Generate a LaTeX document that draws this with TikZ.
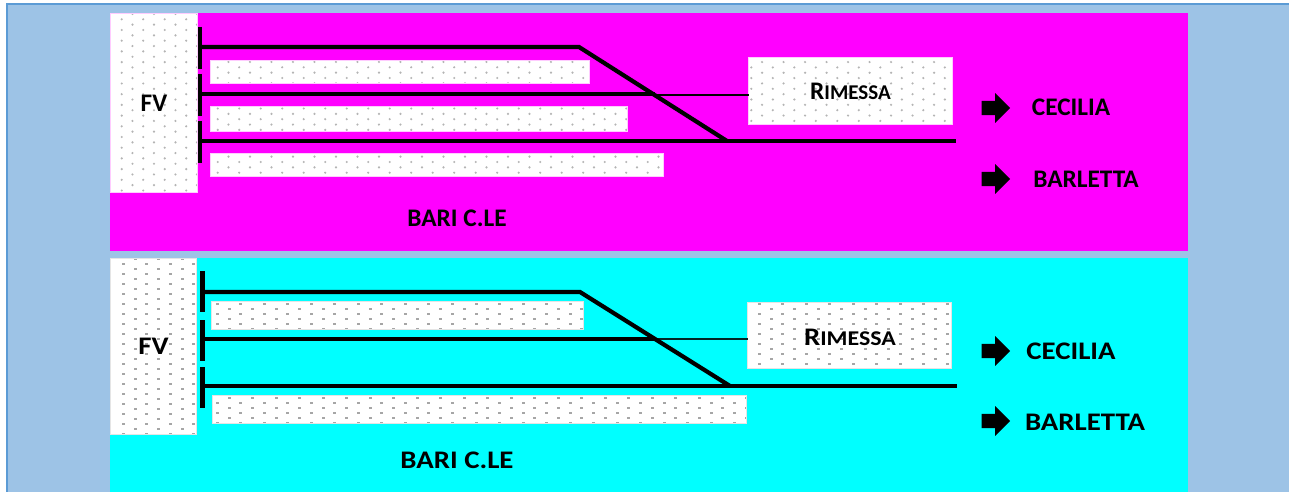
\documentclass[tikz,border=0pt]{standalone}
\usepackage{graphicx}
\usepackage{fontspec}
\setmainfont{Carlito}
\usetikzlibrary{shapes.arrows}
\definecolor{sky}{HTML}{9DC3E6}
\definecolor{skyline}{HTML}{5B9BD5}
\definecolor{pink}{HTML}{FF00FF}
\definecolor{aqua}{HTML}{00FFFF}
\definecolor{dotgrey}{HTML}{B4B4B4}
\newcommand{\stretchtext}[1]{\scalebox{1.14}[1]{#1}}
\newcommand{\labelfont}{\fontsize{25.3}{25.3}\selectfont\bfseries}
\newcommand{\rimtext}{{\bfseries\fontsize{25.3}{25.3}\selectfont R\fontsize{21}{21}\selectfont IMESSA}}
\tikzset{
  band/.style={fill=#1,draw=none,anchor=north west,inner sep=0pt,outer sep=0pt},
  label/.style={font=\labelfont,inner sep=0pt,text=black},
  mdots/.style n args={6}{draw=pink!20!white,line width=1pt,fill=white,inner sep=0pt,outer sep=0pt,anchor=north west,
    minimum width=#5pt-1pt,minimum height=#6pt-1pt,xshift=.5pt,yshift=-.5pt,
    path picture={
      \foreach \i in {0,...,#1}{\foreach \j in {0,...,#2}{
        \fill[dotgrey] ({-#5/2+#3+\i*10.75},{-#6/2+#4+\j*10.7-mod(\i,2)*5.35}) circle[radius=1.2];
      }}
    }},
  cdots/.style n args={6}{draw=black!10,line width=1pt,fill=white,inner sep=0pt,outer sep=0pt,anchor=north west,
    minimum width=#5pt-1pt,minimum height=#6pt-1pt,xshift=.5pt,yshift=-.5pt,
    path picture={
      \foreach \i in {0,...,#1}{\foreach \j in {0,...,#2}{
        \fill[black!35] ({-#5/2+#3+\i*11.76-1.5},{-#6/2+#4+\j*10-mod(\i,2)*5-0.8}) rectangle ++(3,1.6);
      }}
    }},
  heavy/.style={line width=4.2pt},
  bar/.style={line width=#1,line cap=butt},
  thin track/.style={line width=1.6pt},
  go/.style={single arrow,fill=black,draw=none,inner sep=0pt,outer sep=0pt,text height=14pt,text depth=0pt,text width=0pt,minimum width=29.5pt,minimum height=28.5pt,single arrow head extend=7.75pt,single arrow tip angle=90,anchor=tip},
}
\begin{document}
\begin{tikzpicture}[x=1pt,y=-1pt]
\useasboundingbox (0,0) rectangle (1289,492);
\fill[white] (0,0) rectangle (1289,492);
\fill[sky] (6,3) rectangle (1289,492);
\fill[skyline] (6,3) rectangle (1289,5);
\fill[skyline] (6,3) rectangle (8,492);
% bands
\node[band=pink,minimum width=1078pt,minimum height=238pt] (bandA) at (110,13) {};
\node[band=aqua,minimum width=1078pt,minimum height=234pt] (bandB) at (110,258) {};
% upper boxes
\node[mdots={8}{17}{11.7}{6.3}{88}{180}] (fvA) at (110,13) {};
\node[label] (fvAt) at (fvA.center) {FV};
\node[mdots={36}{2}{7.7}{6.8}{380}{23.5}] (pa1) at (210,60.5) {};
\node[mdots={39}{3}{7.7}{2.5}{418}{26}] (pa2) at (210,106) {};
\node[mdots={43}{2}{7.7}{8.7}{454}{23.5}] (pa3) at (210,153.3) {};
\node[mdots={19}{7}{3.3}{0}{205}{68.5}] (rimA) at (748,56.7) {};
\node[inner sep=0pt] (rimAt) at (rimA.center) {\rimtext};
% upper tracks
\coordinate (a1s) at (202,47); \coordinate (a1k) at (579,47); \coordinate (a1e) at (727,141);
\coordinate (a2s) at (202,94); \coordinate (a2k) at (655,94); \coordinate (a2t) at (655,95);
\coordinate (a3s) at (202,141); \coordinate (a3e) at (956,141);
\coordinate (ab1t) at (200,27); \coordinate (ab1b) at (200,69);
\coordinate (ab2t) at (200,74); \coordinate (ab2b) at (200,116);
\coordinate (ab3t) at (200,121); \coordinate (ab3b) at (200,163);
\draw[thin track] (a2t) -- (rimA.west |- a2t);
\draw[heavy] (a2s) -- (a2k);
\draw[heavy,line join=miter] (a1s) -- (a1k) -- (a1e);
\draw[heavy] (a3s) -- (a3e);
\draw[bar=4pt] (ab1t) -- (ab1b);
\draw[bar=4pt] (ab2t) -- (ab2b);
\draw[bar=4pt] (ab3t) -- (ab3b);
\node[go] (arA1) at (1010,108) {};
\node[go] (arA2) at (1010,179) {};
\node[label] (ceA) at (1071,107) {CECILIA};
\node[label] (baA) at (1086,179) {BARLETTA};
\node[label] (stA) at (457,218) {BARI C.LE};
% lower boxes
\node[cdots={8}{18}{13.3}{6}{87}{177}] (fvB) at (110,258) {};
\node[label] (fvBt) at (fvB.center) {\stretchtext{FV}};
\node[cdots={32}{3}{6.3}{3}{373}{29}] (pb1) at (211,301) {};
\node[cdots={46}{3}{5.3}{7.4}{535}{29}] (pb2) at (212,395.3) {};
\node[cdots={18}{7}{12}{1.7}{205}{67}] (rimB) at (747.3,302.3) {};
\node[inner sep=0pt] (rimBt) at (850,337) {\stretchtext{\rimtext}};
% lower tracks
\coordinate (b1s) at (205,292); \coordinate (b1k) at (580,292); \coordinate (b1e) at (730,386);
\coordinate (b2s) at (205,339); \coordinate (b2k) at (656,339);
\coordinate (b3s) at (205,386); \coordinate (b3e) at (957,386);
\coordinate (bb1t) at (202.5,271); \coordinate (bb1b) at (202.5,312);
\coordinate (bb2t) at (202.5,320); \coordinate (bb2b) at (202.5,361);
\coordinate (bb3t) at (202.5,367); \coordinate (bb3b) at (202.5,408);
\draw[thin track,black!85!aqua] (b2k) -- (rimB.west |- b2k);
\draw[heavy] (b2s) -- (b2k);
\draw[heavy,line join=miter] (b1s) -- (b1k) -- (b1e);
\draw[heavy] (b3s) -- (b3e);
\draw[bar=5pt] (bb1t) -- (bb1b);
\draw[bar=5pt] (bb2t) -- (bb2b);
\draw[bar=5pt] (bb3t) -- (bb3b);
\node[go] (arB1) at (1010,351) {};
\node[go] (arB2) at (1010,421) {};
\node[label] (ceB) at (1071,351) {\stretchtext{CECILIA}};
\node[label] (baB) at (1085,422) {\stretchtext{BARLETTA}};
\node[label] (stB) at (457,460) {\stretchtext{BARI C.LE}};
\end{tikzpicture}
\end{document}
